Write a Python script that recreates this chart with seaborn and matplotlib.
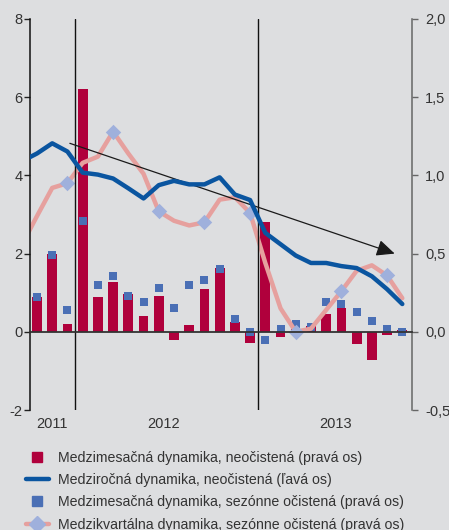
import numpy as np
import pandas as pd
import matplotlib
matplotlib.use("Agg")
import matplotlib.pyplot as plt
import seaborn as sns
from matplotlib.lines import Line2D

# month index: -1 = Sep 2011 ... 24 = Oct 2013
months = np.arange(-1, 25)
bar_months = np.arange(0, 25)

# Medzimesacna dynamika, neocistena (prava os)
mom_raw = [0.22, 0.50, 0.05, 1.55, 0.225, 0.32, 0.24, 0.10, 0.23, -0.05, 0.045, 0.275,
           0.405, 0.065, -0.07, 0.70, -0.035, 0.02, 0.035, 0.115, 0.155, -0.08, -0.18,
           -0.02, 0.01]
# Medzimesacna dynamika, sezonne ocistena (prava os)
mom_sa = [0.22, 0.49, 0.14, 0.71, 0.30, 0.355, 0.23, 0.19, 0.28, 0.155, 0.30, 0.33,
          0.40, 0.08, 0.0, -0.055, 0.02, 0.05, 0.03, 0.19, 0.18, 0.125, 0.07, 0.02, 0.0]
# Medzirocna dynamika, neocistena (lava os)
yoy = [4.36, 4.56, 4.82, 4.61, 4.07, 4.02, 3.92, 3.67, 3.41, 3.75, 3.86, 3.77, 3.77,
       3.95, 3.51, 3.37, 2.53, 2.24, 1.95, 1.76, 1.76, 1.68, 1.63, 1.42, 1.09, 0.71]
# Medzikvartalna dynamika, sezonne ocistena (prava os)
qoq = [0.555, 0.74, 0.92, 0.95, 1.08, 1.12, 1.28, 1.14, 1.01, 0.77, 0.71, 0.68, 0.70,
       0.845, 0.86, 0.76, 0.44, 0.15, 0.0, 0.02, 0.14, 0.26, 0.39, 0.425, 0.36, 0.215]
quarter_months = [2, 5, 8, 11, 14, 17, 20, 23]

years = ["2011", "2012", "2013"]
year_pos = [1.0, 8.3, 19.6]
year_breaks = [2.5, 14.5]

left_ticks = [-2, 0, 2, 4, 6, 8]
right_ticks = [-0.5, 0.0, 0.5, 1.0, 1.5, 2.0]
right_labels = ["-0,5", "0,0", "0,5", "1,0", "1,5", "2,0"]

labels = ["Medzimesačná dynamika, neočistená (pravá os)",
          "Medziročná dynamika, neočistená (ľavá os)",
          "Medzimesačná dynamika, sezónne očistená (pravá os)",
          "Medzikvartálna dynamika, sezónne očistená (pravá os)"]

bg = "#dddee0"
c_bar = "#b0003c"
c_yoy = "#0a55a0"
c_sa = "#4a6fb5"
c_qoq = "#e6a09e"
c_dia = "#9fb0dc"

sns.set_style("white")
plt.rcParams["font.family"] = ["Liberation Sans", "DejaVu Sans"]

fig = plt.figure(figsize=(4.49, 5.30), dpi=100, facecolor=bg)
ax = fig.add_axes([0.0668, 0.2264, 0.8519, 0.7378])
ax2 = ax.twinx()
ax.set_zorder(ax2.get_zorder() + 1)
ax.patch.set_visible(False)
ax2.patch.set_facecolor(bg)

# right axis: bars, squares, quarterly line
sns.barplot(x=bar_months, y=mom_raw, ax=ax2, native_scale=True, color=c_bar,
            saturation=1, width=0.64, linewidth=0, zorder=2)
sns.lineplot(x=months, y=qoq, ax=ax2, color=c_qoq, linewidth=3.2, zorder=4)
sns.scatterplot(x=bar_months, y=mom_sa, ax=ax2, color=c_sa, marker="s", s=30,
                linewidth=0, zorder=3)
qoq_arr = np.array(qoq)
sns.scatterplot(x=quarter_months, y=qoq_arr[np.array(quarter_months) + 1], ax=ax2,
                color=c_dia, marker="D", s=62, linewidth=0, zorder=5)

# left axis: yoy line
sns.lineplot(x=months, y=yoy, ax=ax, color=c_yoy, linewidth=3.2, zorder=6)

for xb in year_breaks:
    ax.axvline(xb, color="#111111", lw=1.0, zorder=1)

ax.annotate("", xy=(23.5, 2.0), xytext=(2.16, 4.82),
            arrowprops=dict(arrowstyle="-|>,head_length=1.1,head_width=0.5",
                            color="#1a1a1a", lw=0.9, shrinkA=0, shrinkB=0))

ax.set_xlim(-0.46, 24.67)
ax.set_ylim(-2, 8)
ax2.set_ylim(-0.5, 2.0)

ax.set_yticks(left_ticks)
ax.set_yticklabels([str(t) for t in left_ticks])
ax2.set_yticks(right_ticks)
ax2.set_yticklabels(right_labels)

ax.set_xticks(np.arange(0.5, 24, 1.0))
ax.set_xticklabels([])
ax.spines["bottom"].set_position(("data", 0))
ax.spines["bottom"].set_color("#333333")
ax.spines["bottom"].set_linewidth(1.3)
ax.tick_params(axis="x", direction="out", length=4, width=1, color="#555555")
ax.tick_params(axis="y", direction="out", length=4, width=1, color="#222222",
               labelsize=10.5, labelcolor="#333333", pad=1.5, left=True)
ax2.tick_params(axis="y", direction="out", length=4, width=1, color="#666666",
                labelsize=10.5, labelcolor="#333333", pad=5, right=True)
ax2.tick_params(axis="x", bottom=False, labelbottom=False)

for s in ["top", "right"]:
    ax.spines[s].set_visible(False)
for s in ["top", "left", "bottom"]:
    ax2.spines[s].set_visible(False)
ax.spines["left"].set_color("#111111")
ax.spines["left"].set_linewidth(1.1)
ax2.spines["right"].set_color("#666666")
ax2.spines["right"].set_linewidth(1.1)

for a in (ax, ax2):
    a.set_xlabel("")
    a.set_ylabel("")
    a.grid(False)
    if a.get_legend() is not None:
        a.get_legend().remove()

for yr, xp in zip(years, year_pos):
    ax.text(xp, -0.017, yr, transform=ax.get_xaxis_transform(), ha="center", va="top",
            fontsize=10.5, color="#333333")

handles = [
    Line2D([], [], linestyle="none", marker="s", markersize=7.5, color=c_bar),
    Line2D([], [], color=c_yoy, linewidth=3.2),
    Line2D([], [], linestyle="none", marker="s", markersize=7.5, color=c_sa),
    Line2D([], [], color=c_qoq, linewidth=3.2, marker="D", markersize=8,
           markerfacecolor=c_dia, markeredgecolor=c_dia),
]
fig.legend(handles, labels, loc="upper left", bbox_to_anchor=(0.045, 0.16),
           frameon=False, fontsize=10.2, handlelength=1.6, handletextpad=0.65,
           labelspacing=0.58, borderaxespad=0, labelcolor="#333333")

fig.savefig("out.png", dpi=100, facecolor=bg)
